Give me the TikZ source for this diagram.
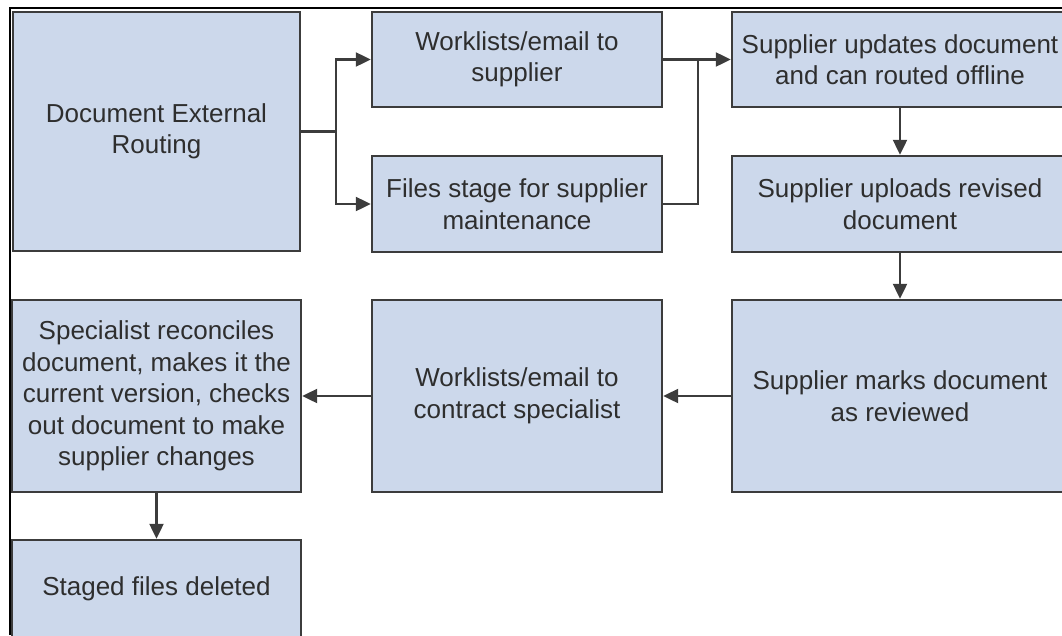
\documentclass[tikz,border=0pt]{standalone}
\usepackage{fontspec}
\setmainfont{Liberation Sans}
\usetikzlibrary{arrows.meta}
\definecolor{boxfill}{HTML}{CCD8EB}
\definecolor{boxline}{HTML}{3C3C3C}
\definecolor{txt}{HTML}{2E2E2E}
\begin{document}
\begin{tikzpicture}[x=1pt,y=1pt,
  flowbox/.style={draw=boxline, line width=2.4pt, fill=boxfill, rectangle,
    inner sep=0pt, align=center, text=txt,
    font=\fontsize{26}{31.5}\selectfont},
  conn/.style={draw=boxline, line width=2.2pt},
  arr/.style={conn, -{Triangle[length=15pt,width=14pt]}}]
\useasboundingbox (0,0) rectangle (1062,-635);
\begin{scope}
\clip (0,0) rectangle (1062,-635);
\draw[black, line width=1.5pt] (10,-635) -- (10,-8) -- (1062,-8);
\node[flowbox, minimum width=287, minimum height=239] (A) at (156.5,-131.5) {Document External\\Routing};
\node[flowbox, minimum width=290, minimum height=95] (B) at (517,-59.5) {Worklists/email to\\supplier};
\node[flowbox, minimum width=290, minimum height=96] (C) at (517,-204) {Files stage for supplier\\maintenance};
\node[flowbox, minimum width=336, minimum height=95] (D) at (900,-59.5) {Supplier updates document\\and can routed offline};
\node[flowbox, minimum width=336, minimum height=96] (E) at (900,-204) {Supplier uploads revised\\document};
\node[flowbox, minimum width=336, minimum height=192] (F) at (900,-396) {Supplier marks document\\as reviewed};
\node[flowbox, minimum width=290, minimum height=192] (G) at (517,-396) {Worklists/email to\\contract specialist};
\node[flowbox, minimum width=289, minimum height=192] (H) at (156.5,-396) {Specialist reconciles\\document, makes it the\\current version, checks\\out document to make\\supplier changes};
\node[flowbox, minimum width=289, minimum height=98] (I) at (156.5,-589) {Staged files deleted};
\coordinate (j1) at (336,-131.5);
\coordinate (j2) at (698,-59.5);
\draw[conn] (A.east) -- (j1);
\draw[arr] (j1) |- (B.west);
\draw[arr] (j1) |- (C.west);
\draw[arr] (B.east) -- (D.west);
\draw[conn] (C.east) -| (j2);
\draw[arr] (D.south) -- (E.north);
\draw[arr] (E.south) -- (F.north);
\draw[arr] (F.west) -- (G.east);
\draw[arr] (G.west) -- (H.east);
\draw[arr] (H.south) -- (I.north);
\end{scope}
\end{tikzpicture}
\end{document}
